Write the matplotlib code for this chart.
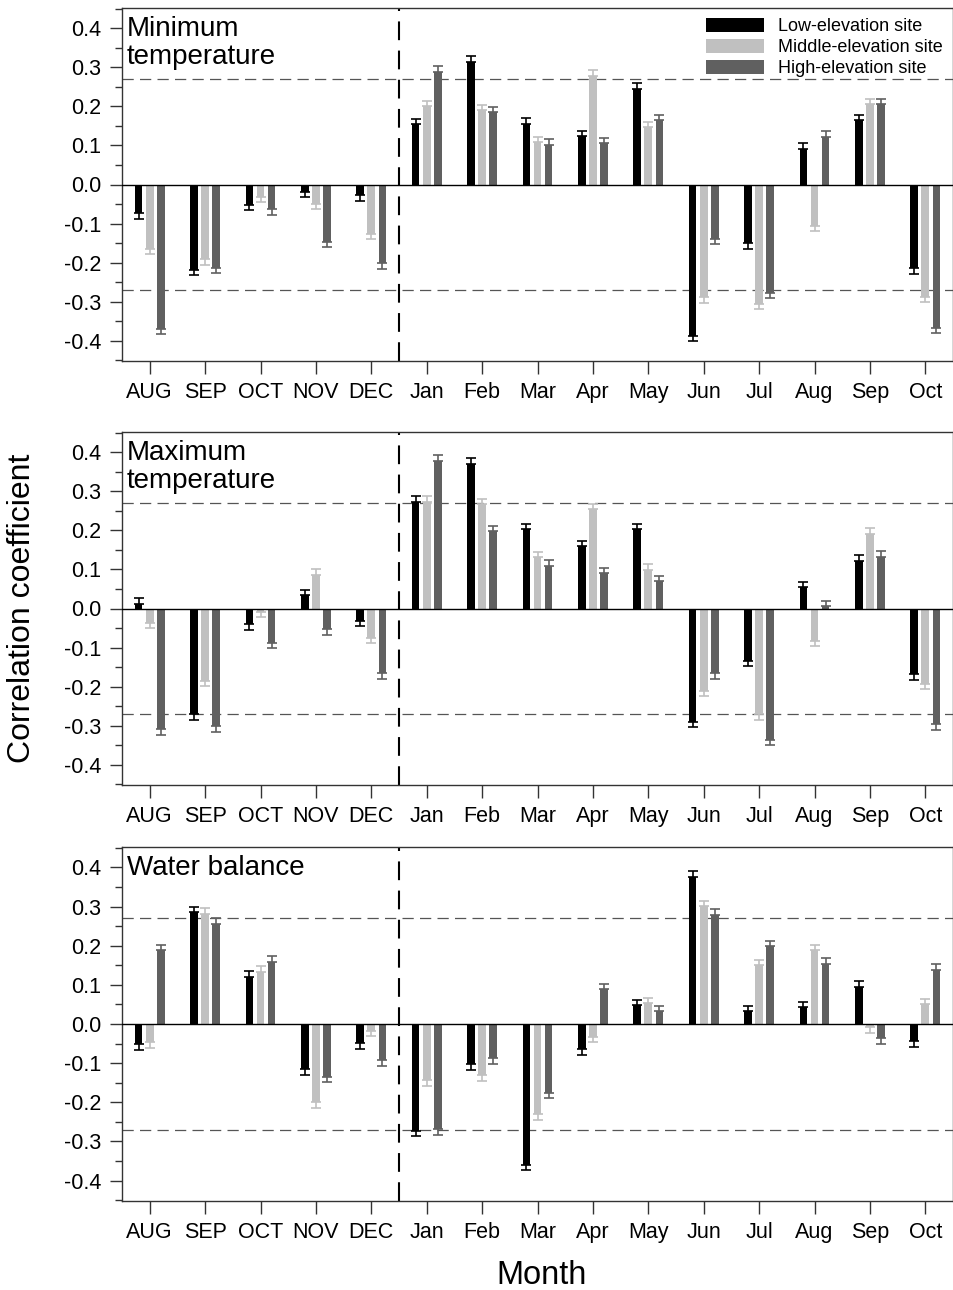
import numpy as np
import matplotlib
matplotlib.use("Agg")
import matplotlib.pyplot as plt
from matplotlib.patches import Patch
from matplotlib.ticker import MultipleLocator

plt.rcParams["font.family"] = ["Liberation Sans", "DejaVu Sans"]

months = ["AUG", "SEP", "OCT", "NOV", "DEC", "Jan", "Feb", "Mar", "Apr",
          "May", "Jun", "Jul", "Aug", "Sep", "Oct"]
series_names = ["Low-elevation site", "Middle-elevation site", "High-elevation site"]
panel_titles = ["Minimum\ntemperature", "Maximum\ntemperature", "Water balance"]

# ── Correlation coefficients ─────────────────────────────────────────────────
tmin_low  = [-0.074, -0.218, -0.052, -0.019, -0.028, 0.155, 0.314, 0.156, 0.124,
             0.245, -0.387, -0.150, 0.092, 0.165, -0.215]
tmin_mid  = [-0.164, -0.192, -0.031, -0.050, -0.126, 0.200, 0.190, 0.108, 0.278,
             0.147, -0.289, -0.305, -0.105, 0.205, -0.287]
tmin_high = [-0.369, -0.213, -0.063, -0.146, -0.202, 0.289, 0.185, 0.102, 0.105,
             0.164, -0.139, -0.277, 0.122, 0.205, -0.367]

tmax_low  = [0.012, -0.271, -0.040, 0.034, -0.031, 0.273, 0.371, 0.203, 0.160,
             0.203, -0.290, -0.134, 0.054, 0.122, -0.168]
tmax_mid  = [-0.037, -0.185, -0.009, 0.086, -0.075, 0.273, 0.267, 0.131, 0.254,
             0.099, -0.210, -0.271, -0.083, 0.191, -0.193]
tmax_high = [-0.309, -0.301, -0.088, -0.053, -0.166, 0.378, 0.198, 0.110, 0.090,
             0.070, -0.166, -0.336, 0.006, 0.132, -0.296]

wb_low  = [-0.052, 0.286, 0.121, -0.116, -0.049, -0.272, -0.103, -0.360, -0.065,
           0.048, 0.376, 0.032, 0.043, 0.095, -0.044]
wb_mid  = [-0.047, 0.281, 0.134, -0.200, -0.017, -0.144, -0.131, -0.231, -0.032,
           0.053, 0.301, 0.150, 0.188, -0.008, 0.050]
wb_high = [0.188, 0.256, 0.159, -0.135, -0.092, -0.269, -0.087, -0.175, 0.089,
           0.033, 0.279, 0.199, 0.154, -0.036, 0.138]

err = 0.014        # half-width of error bars
sig_level = 0.27   # significance threshold

panels = [
    [tmin_low, tmin_mid, tmin_high],
    [tmax_low, tmax_mid, tmax_high],
    [wb_low, wb_mid, wb_high],
]
colors = ["#000000", "#c0c0c0", "#606060"]
offsets = [-0.2, 0.0, 0.2]
bar_w = 0.14

fig = plt.figure(figsize=(9.54, 12.9), dpi=100)
W, H = 954.0, 1290.0
boxes = [(8, 361), (432, 785), (847, 1201)]   # top/bottom in pixels
x = np.arange(len(months))
yt = np.round(np.arange(-0.4, 0.41, 0.1), 1)

for p, (vals, title, (top, bot)) in enumerate(zip(panels, panel_titles, boxes)):
    ax = fig.add_axes([122 / W, 1 - bot / H, 831 / W, (bot - top) / H])
    for s in range(3):
        v = np.array(vals[s])
        lo = np.where(v < 0, err, 0.0)
        hi = np.where(v >= 0, err, 0.0)
        ax.bar(x + offsets[s], v, width=bar_w, color=colors[s], zorder=3)
        ax.errorbar(x + offsets[s], v, yerr=[lo, hi], fmt="none", ecolor=colors[s],
                    elinewidth=1.2, capsize=3.5, capthick=1.2, zorder=3)
    ax.axhline(0, color="black", lw=1.0, zorder=4)
    for lvl in (sig_level, -sig_level):
        ax.axhline(lvl, color="#555555", lw=0.9, ls=(0, (9, 5)), zorder=2)
    ax.axvline(4.5, color="black", lw=1.5, ls=(0, (9, 5)), zorder=2)

    ax.set_xlim(-0.5, 14.5)
    ax.set_ylim(-0.452, 0.452)
    ax.set_xticks(x)
    ax.set_xticklabels(months, fontsize=15.5)
    ax.yaxis.set_minor_locator(MultipleLocator(0.05))
    ax.set_yticks(yt)
    ax.set_yticklabels([f"{abs(t):.1f}" if t == 0 else f"{t:.1f}" for t in yt],
                       fontsize=15.5)
    ax.tick_params(axis="both", which="major", direction="out", length=9, width=1,
                   pad=6, color="#333333")
    ax.tick_params(axis="y", which="minor", direction="out", length=5, width=1,
                   color="#333333")
    ax.tick_params(axis="x", which="minor", bottom=False)
    for sp in ax.spines.values():
        sp.set_linewidth(1.0)
        sp.set_color("#333333")

    ax.text(0.006, 0.978, title, transform=ax.transAxes, ha="left", va="top",
            fontsize=20, linespacing=1.12)

    if p == 0:
        handles = [Patch(facecolor=c, edgecolor="none") for c in colors]
        ax.legend(handles, series_names, loc="upper right", frameon=False,
                  fontsize=13, handlelength=3.2, handleheight=0.8,
                  borderaxespad=0.15, labelspacing=0.22, handletextpad=0.8)

fig.text(22 / W, 1 - 608 / H, "Correlation coefficient", rotation=90,
         ha="center", va="center", fontsize=23)
fig.text(542 / W, 1 - 1276 / H, "Month", ha="center", va="center", fontsize=23.5)

fig.savefig("out.png", dpi=100)
